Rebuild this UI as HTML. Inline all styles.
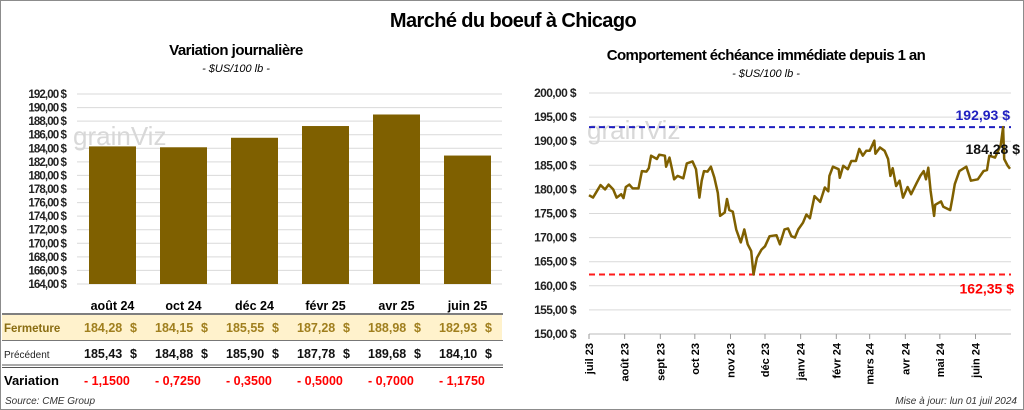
<!DOCTYPE html>
<html><head><meta charset="utf-8"><style>
body{margin:0;background:#fff;}
#wrap{position:relative;width:1022px;height:408px;border:1px solid #8c8c8c;overflow:hidden;font-family:"Liberation Sans",sans-serif;}
.t{position:absolute;white-space:nowrap;}
svg{position:absolute;left:0;top:0;}
</style></head><body>
<div id="wrap">
<div class="t" style="left:0;width:1024px;text-align:center;top:9px;font-size:20px;font-weight:bold;letter-spacing:-0.6px;">Marché du boeuf à Chicago</div>
<div class="t" style="left:135px;width:200px;text-align:center;top:41px;font-size:15px;font-weight:bold;letter-spacing:-0.5px;">Variation journalière</div>
<div class="t" style="left:135px;width:200px;text-align:center;top:62px;font-size:11px;font-style:italic;">- $US/100 lb -</div>
<div class="t" style="left:565px;width:400px;text-align:center;top:46px;font-size:15px;font-weight:bold;letter-spacing:-0.6px;">Comportement échéance immédiate depuis 1 an</div>
<div class="t" style="left:665px;width:200px;text-align:center;top:67px;font-size:11px;font-style:italic;">- $US/100 lb -</div>
<div class="t" style="left:4px;top:395px;font-size:10px;font-style:italic;color:#333;">Source: CME Group</div>
<div class="t" style="right:6px;top:395px;font-size:10px;font-style:italic;color:#333;">Mise à jour: lun 01 juil 2024</div>
<svg id="s" width="1024" height="410" xmlns="http://www.w3.org/2000/svg"></svg>
</div>
<script>
const categories=["août 24","oct 24","déc 24","févr 25","avr 25","juin 25"];
const closeVals=[184.28,184.15,185.55,187.28,188.98,182.93];
const prevVals=[185.43,184.88,185.90,187.78,189.68,184.10];
const varVals=["- 1,1500","- 0,7250","- 0,3500","- 0,5000","- 0,7000","- 1,1750"];
const leftTicks=[164,166,168,170,172,174,176,178,180,182,184,186,188,190,192];
const lineDays=[0,3.5,6,10,14,17,21,24,28,30,32,35,38,43,46,50,52,54,59,61,66,67,70,72,74,77,82,85,90,93,96,98,100,103,106,109,112,114,118,120,122,125,128,132,135,138,141,143,146,150,153,157,163,166,170,173,176,179,182,186,189,192,196,201,205,208,209,212,217,218,221,225,228,232,235,238,241,244,248,249,253,257,260,262,264,267,270,273,277,280,285,288,291,293,295,297,300,301,306,308,314,316,318,322,328,332,338,343,346,348,353,358,360,361,364,366];
const lineVals=[178.8,178.3,179.3,180.9,180,181,180,178.3,179,178.2,180.5,181,180.2,180.2,183.8,183.7,184.4,187,186.3,187.2,187,184.7,186.6,184.4,182.1,182.8,182.3,185.4,185.8,184.2,178.3,181.8,183.8,183.7,184.7,182.4,179.3,174.5,175.2,178,175.7,175.4,171.7,169,171.7,168.6,167.2,162.35,165.8,167.5,168.2,170.3,170.5,168.6,171.7,171.9,170.3,170,171.7,173.1,174.8,174,178.6,177.4,180.4,179.6,182.8,184.7,184.2,182.4,184.9,184.2,185.9,185.9,188.4,187,188,188,190.1,187.4,188.7,188,186.3,182.8,184.4,180.7,181.8,178.3,180.5,179,181.4,182.8,183.8,182.1,184.5,179.7,174.5,176.8,177.5,176.4,175.7,178.3,181.1,183.8,184.7,181.8,182.1,183.8,184,187,186.6,189.3,192.93,186.3,184.9,184.28];
const rightTicks=[150,155,160,165,170,175,180,185,190,195,200];
const monthLabels=["juil 23","août 23","sept 23","oct 23","nov 23","déc 23","janv 24","févr 24","mars 24","avr 24","mai 24","juin 24"];
const monthDays=[0,31,62,92,123,153,184,215,244,275,305,336];
const maxVal=192.93, minVal=162.35, lastVal=184.28;

const s=document.getElementById('s');const NS="http://www.w3.org/2000/svg";
function mk(t,a,txt){const e=document.createElementNS(NS,t);for(const k in a)e.setAttribute(k,a[k]);if(txt!==undefined)e.textContent=txt;s.appendChild(e);return e;}
const fmt=v=>v.toFixed(2).replace('.',',');
const ly=v=>283-(v-164)*(190/28);
const lx0=76,cw=71;
for(const t of leftTicks){
 const g=mk('line',{x1:lx0,x2:501,y1:ly(t),y2:ly(t),stroke:'#d9d9d9','stroke-width':1});
 
 const l=mk('text',{x:65,y:ly(t)+4,'text-anchor':'end','font-size':11.5,'font-weight':'bold','letter-spacing':'-0.9','fill':'#222'},fmt(t)+' $');
 
}
const wm=mk('text',{x:72,y:144,'font-size':26,fill:'#d8d8d8'},'grainViz');

categories.forEach((c,i)=>{
 const x=lx0+cw*i+12;
 const b=mk('rect',{x:x,y:ly(closeVals[i]),width:47,height:ly(164)-ly(closeVals[i]),fill:'#7f6000'});
 
 const cx=x+23.5;
 const h=mk('text',{x:cx,y:309,'text-anchor':'middle','font-size':12.5,'font-weight':'bold'},c);
 
});
let r=mk('rect',{x:1,y:314,width:500,height:25,fill:'#fff2cc'});
let ln=mk('line',{x1:1,x2:502,y1:313,y2:313,stroke:'#555','stroke-width':1.5});
ln=mk('line',{x1:1,x2:502,y1:339.5,y2:339.5,stroke:'#777','stroke-width':1});
ln=mk('line',{x1:1,x2:502,y1:364,y2:364,stroke:'#555','stroke-width':1});
ln=mk('line',{x1:1,x2:502,y1:366.5,y2:366.5,stroke:'#555','stroke-width':1});
let lb=mk('text',{x:3,y:331,'font-size':11.5,'font-weight':'bold',fill:'#8a6d12'},'Fermeture');
lb=mk('text',{x:3,y:357,'font-size':10,fill:'#222'},'Précédent');
lb=mk('text',{x:3,y:384,'font-size':13,'font-weight':'bold'},'Variation');
categories.forEach((c,i)=>{
 const x=lx0+cw*i+12;
 let t=mk('text',{x:x-5,y:331,'font-size':12.5,'font-weight':'bold',fill:'#a07f1e'},fmt(closeVals[i]));
 t=mk('text',{x:x+41,y:331,'font-size':12.5,'font-weight':'bold',fill:'#a07f1e'},'$');
 t=mk('text',{x:x-5,y:357,'font-size':12.5,'font-weight':'bold',fill:'#111'},fmt(prevVals[i]));
 t=mk('text',{x:x+41,y:357,'font-size':12.5,'font-weight':'bold',fill:'#111'},'$');
 t=mk('text',{x:x-5,y:384,'font-size':12.5,'font-weight':'bold',fill:'#ff0000'},varVals[i]);
});
const ry=v=>333-(v-150)*(241/50);
const rx=d=>588+d*(421/366);
for(const t of rightTicks){
 const g=mk('line',{x1:588,x2:1010,y1:ry(t),y2:ry(t),stroke:'#d9d9d9','stroke-width':1});
 
 const l=mk('text',{x:575,y:ry(t)+4,'text-anchor':'end','font-size':12,'font-weight':'bold','letter-spacing':'-0.6',fill:'#222'},fmt(t)+' $');
 
}
const wm2=mk('text',{x:586,y:138,'font-size':26,fill:'#d8d8d8'},'grainViz');

let ax=mk('line',{x1:588,x2:1010,y1:333,y2:333,stroke:'#bbb'});
monthLabels.forEach((m,i)=>{
 const x=rx(monthDays[i]);
 const tk=mk('line',{x1:x,x2:x,y1:333,y2:338,stroke:'#999'});
 const t=mk('text',{x:0,y:0,'font-size':11,'font-weight':'bold','text-anchor':'end',transform:`translate(${x+4},342) rotate(-90)`},m);
 
});
let hl=mk('line',{x1:588,x2:1010,y1:ry(maxVal),y2:ry(maxVal),stroke:'#1f1fbf','stroke-width':2,'stroke-dasharray':'6,4'});
hl=mk('line',{x1:588,x2:1010,y1:ry(minVal),y2:ry(minVal),stroke:'#ff1a1a','stroke-width':2,'stroke-dasharray':'6,4'});
const pts=lineDays.map((d,i)=>rx(d).toFixed(1)+','+ry(lineVals[i]).toFixed(1)).join(' ');
const lead=mk('line',{x1:rx(361),y1:ry(186.5),x2:rx(366),y2:ry(lastVal),stroke:'#aaa','stroke-width':1});
const pl=mk('polyline',{points:pts,fill:'none',stroke:'#7f6000','stroke-width':2.5,'stroke-linejoin':'round'});

let lt=mk('text',{x:1009,y:ry(maxVal)-7,'text-anchor':'end','font-size':14,'font-weight':'bold',fill:'#2020c0'},fmt(maxVal)+' $');
lt=mk('text',{x:1013,y:ry(minVal)+19,'text-anchor':'end','font-size':14,'font-weight':'bold',fill:'#ff0000'},fmt(minVal)+' $');
lt=mk('text',{x:1019,y:153,'text-anchor':'end','font-size':14,'font-weight':'bold',fill:'#111'},fmt(lastVal)+' $');
</script>
</body></html>
